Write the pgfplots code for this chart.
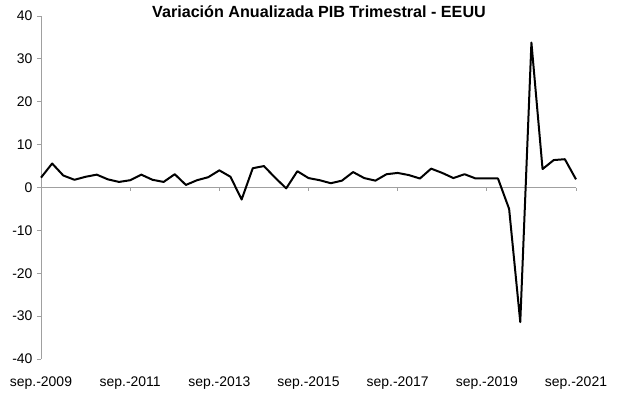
\documentclass[border=0pt]{standalone}
\usepackage{fontspec}
\setmainfont{Liberation Sans}
\usepackage{pgfplots}
\pgfplotsset{compat=1.18}
\definecolor{axgray}{HTML}{A0A0A0}
\begin{document}
\begin{tikzpicture}
\useasboundingbox (-41bp,-35bp) rectangle (576bp,359bp);
\begin{axis}[
  scale only axis,
  width=535bp, height=343bp,
  xmin=0, xmax=48, ymin=-40, ymax=40,
  axis x line=bottom,
  axis y line=left,
  x axis line style={draw=none},
  y axis line style={-, draw=axgray, line width=0.8bp},
  xtick={0,8,16,24,32,40,48},
  xticklabels={sep.-2009,sep.-2011,sep.-2013,sep.-2015,sep.-2017,sep.-2019,sep.-2021},
  x tick style={draw=none},
  ytick={-40,-30,-20,-10,0,10,20,30,40},
  yticklabels={-40,-30,-20,-10,0,10,20,30,40},
  y tick style={draw=axgray, line width=0.8bp},
  tick align=outside,
  major tick length=4bp,
  tick label style={font=\fontsize{14}{16}\selectfont},
  xticklabel style={anchor=base, yshift=-23bp},
  yticklabel style={anchor=east, xshift=-1bp},
  clip=false,
]
\draw[axgray, line width=0.8bp] (axis cs:0,0) -- (axis cs:48,0);
\pgfplotsinvokeforeach{0,8,16,24,32,40,48}{\draw[axgray, line width=0.8bp] (axis cs:#1,0) -- (axis cs:#1,-0.93);}
\addplot[black, line width=2bp, mark=none, line join=round] coordinates {
(0,2.3) (1,5.6) (2,2.8) (3,1.8) (4,2.5) (5,3.0) (6,1.9) (7,1.3) (8,1.7) (9,3.0)
(10,1.8) (11,1.3) (12,3.1) (13,0.6) (14,1.7) (15,2.4) (16,4.0) (17,2.5) (18,-2.8) (19,4.5)
(20,5.0) (21,2.3) (22,-0.2) (23,3.8) (24,2.2) (25,1.7) (26,1.0) (27,1.6) (28,3.6) (29,2.2)
(30,1.6) (31,3.1) (32,3.4) (33,2.9) (34,2.1) (35,4.4) (36,3.4) (37,2.2) (38,3.1) (39,2.1)
(40,2.1) (41,2.1) (42,-5.0) (43,-31.4) (44,33.8) (45,4.3) (46,6.4) (47,6.6) (48,1.9)
};
\end{axis}
\node[font=\bfseries\fontsize{16.2}{19}\selectfont, anchor=base] at (278bp,341bp) {Variación Anualizada PIB Trimestral - EEUU};
\end{tikzpicture}
\end{document}
